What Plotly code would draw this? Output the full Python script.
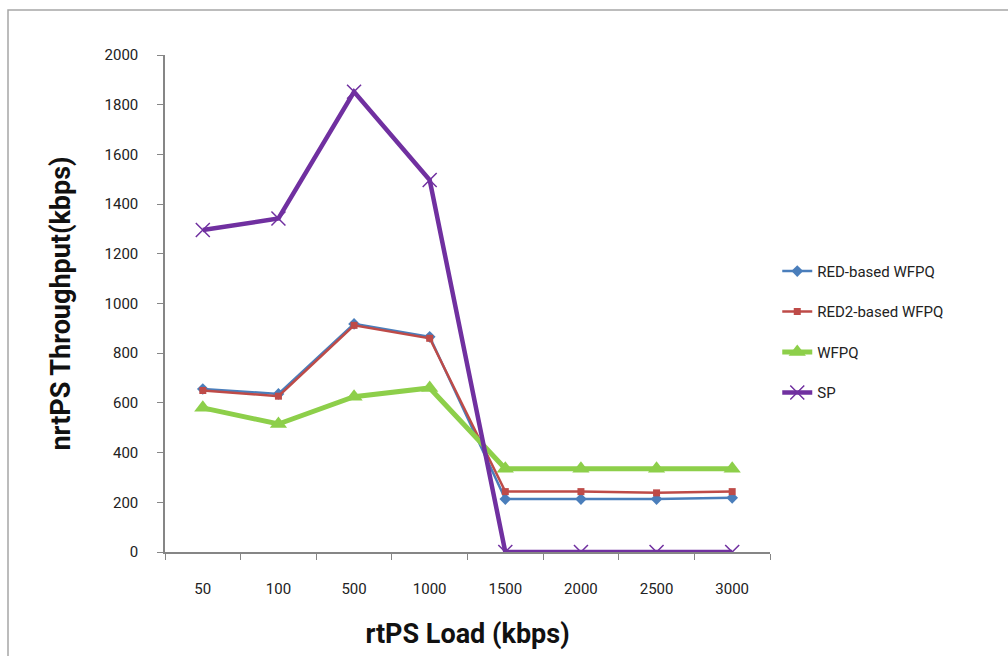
import plotly.graph_objects as go

loads = ["50", "100", "500", "1000", "1500", "2000", "2500", "3000"]
red_wfpq = [656, 636, 918, 866, 213, 213, 213, 218]
red2_wfpq = [650, 627, 912, 860, 243, 243, 238, 243]
wfpq = [580, 515, 625, 660, 335, 335, 335, 335]
sp = [1296, 1342, 1852, 1497, 0, 0, 0, 0]

y_ticks = [0, 200, 400, 600, 800, 1000, 1200, 1400, 1600, 1800, 2000]

fig = go.Figure()
fig.add_trace(go.Scatter(x=loads, y=red_wfpq, name="RED-based WFPQ", mode="lines+markers",
                         line=dict(color="#4A7EBB", width=2.5),
                         marker=dict(symbol="diamond", size=9, color="#4A7EBB"),
                         legendgroup="a"))
fig.add_trace(go.Scatter(x=loads, y=red2_wfpq, name="RED2-based WFPQ", mode="lines+markers",
                         line=dict(color="#BE4B48", width=2.5),
                         marker=dict(symbol="square", size=7, color="#BE4B48"),
                         legendgroup="b"))
fig.add_trace(go.Scatter(x=loads, y=wfpq, name="WFPQ", mode="lines+markers",
                         line=dict(color="#8DCF4A", width=5),
                         marker=dict(symbol="triangle-up", size=15, color="#8DCF4A"),
                         legendgroup="c"))
fig.add_trace(go.Scatter(x=loads, y=sp, name="SP", mode="lines+markers",
                         line=dict(color="#7030A0", width=4.5),
                         marker=dict(symbol="x-thin-open", size=14, color="#7030A0",
                                     line=dict(color="#8A4FBF", width=1.5)),
                         legendgroup="d"))

fig.add_shape(type="rect", xref="paper", yref="paper", x0=-0.2595, y0=-0.6, x1=1.6, y1=1.0905,
              line=dict(color="#A6A6A6", width=1.5), fillcolor="rgba(0,0,0,0)", layer="below")

fig.update_layout(
    width=1008, height=656,
    margin=dict(l=165, r=238, t=55, b=104),
    paper_bgcolor="white", plot_bgcolor="white",
    font=dict(family="Roboto, sans-serif", color="#222222", size=14),
    legend=dict(x=1.012, y=0.598, xanchor="left", yanchor="top", tracegroupgap=18,
                font=dict(size=15, family="Roboto, sans-serif", color="#222"),
                bgcolor="rgba(0,0,0,0)"),
    xaxis=dict(type="category", categoryorder="array", categoryarray=loads,
               range=[-0.5, 7.5], showline=True, linecolor="#868686", linewidth=1.5,
               ticks="outside", tickson="boundaries", ticklen=6, tickcolor="#868686",
               showgrid=False, zeroline=False,
               tickfont=dict(size=15), ticklabelstandoff=22,
               title=dict(text="<b>rtPS Load (kbps)</b>", standoff=27,
                          font=dict(size=27, family="Roboto, sans-serif", color="#111"))),
    yaxis=dict(range=[0, 2000], tickvals=y_ticks, showline=True, linecolor="#868686", linewidth=1.5,
               ticks="outside", ticklen=6, tickcolor="#868686", showgrid=False, zeroline=False,
               tickfont=dict(size=15), ticklabelstandoff=16,
               title=dict(text="<b>nrtPS Throughput(kbps)</b>", standoff=26,
                          font=dict(size=27, family="Roboto, sans-serif", color="#111"))),
)

fig.write_html("out.html")
